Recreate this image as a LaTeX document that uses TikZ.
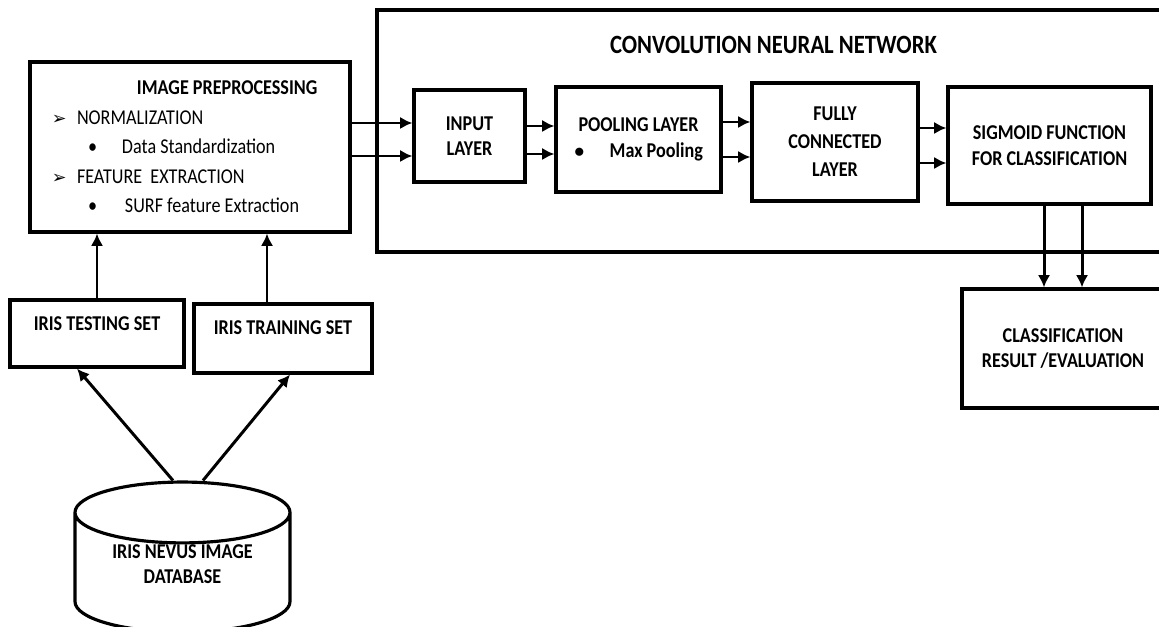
\documentclass[tikz,border=0pt]{standalone}
\usepackage{fontspec}
\setmainfont{Carlito}[FakeStretch=0.86]
\newfontfamily\dingfont{DejaVu Sans}
\usetikzlibrary{positioning}
\usetikzlibrary{shapes.geometric}
\usetikzlibrary{arrows.meta}
\newcommand{\boxfont}{\fontsize{12}{14.5}\selectfont}
\tikzset{
	layer/.style={draw, rectangle, line width=1.8pt, inner sep=2pt, align=center, font=\boxfont\bfseries},
	dataset/.style={draw, rectangle, line width=1.8pt, inner sep=0pt, align=center, font=\boxfont\bfseries},
	prepbox/.style={draw, rectangle, line width=1.8pt, inner xsep=0pt, text width=6.4cm, minimum height=3.4cm, align=flush left, font=\fontsize{12}{16.8}\selectfont},
	database/.style={draw, cylinder, shape border rotate=90, aspect=0.4, line width=1.8pt, minimum width=4.3cm, minimum height=3cm, font=\boxfont\bfseries},
	arr/.style={line width=1.7pt, -{Latex[length=7pt, width=7pt]}},
}

\begin{document}
\begin{tikzpicture}
		\path[use as bounding box, clip] (0,0) rectangle (23.18,12.52);
		
		% network frame, runs off the right edge
		\node (cnn) [draw, rectangle, line width=1.8pt, minimum width=15.86cm, minimum height=4.84cm] at (15.47,9.9) {};
		\node (cnntitle) [font=\fontsize{15}{18}\selectfont\bfseries] at ([yshift=-0.74cm]cnn.north) {CONVOLUTION NEURAL NETWORK};
		
		\node (prep) [prepbox] at (3.8,9.58) {%
			\hspace*{2.14cm}\textbf{IMAGE PREPROCESSING}\\
			\hspace*{0.44cm}\makebox[0.5cm][l]{\dingfont\fontsize{10}{12}\selectfont ➢}NORMALIZATION\\
			\hspace*{1.16cm}\makebox[0.68cm][l]{•}Data Standardization\\
			\hspace*{0.44cm}\makebox[0.5cm][l]{\dingfont\fontsize{10}{12}\selectfont ➢}FEATURE\ \ EXTRACTION\\
			\hspace*{1.16cm}\makebox[0.74cm][l]{•}SURF feature Extraction};
		
		\node (input) [layer, right of=prep, minimum width=2.22cm, minimum height=1.84cm, xshift=4.59cm, yshift=0.22cm] {INPUT\\LAYER};
		
		\node (pool) [layer, right of=input, minimum width=3.3cm, minimum height=2.1cm, xshift=2.38cm, yshift=-0.07cm] {POOLING LAYER\\$\bullet$\hspace{0.5cm}Max Pooling};
		
		\node (fc) [layer, right of=pool, minimum width=3.32cm, minimum height=2.36cm, xshift=2.93cm, yshift=-0.05cm] {FULLY\\[1.4pt]CONNECTED\\[1.4pt]LAYER};
		
		\node (sig) [layer, right of=fc, minimum width=4.06cm, minimum height=2.34cm, xshift=3.29cm, yshift=-0.07cm] {SIGMOID FUNCTION\\FOR CLASSIFICATION};
		
		\node (result) [layer, below of=sig, minimum width=4.04cm, minimum height=2.38cm, xshift=0.27cm, yshift=-3.06cm] {CLASSIFICATION\\RESULT /EVALUATION};
		
		\node (testing) [dataset, below of=prep, minimum width=3.48cm, text height=0.6cm, text depth=0.74cm, xshift=-1.86cm, yshift=-2.73cm] {IRIS TESTING SET};
		
		\node (training) [dataset, right of=testing, minimum width=3.56cm, text height=0.6cm, text depth=0.78cm, xshift=2.72cm, yshift=-0.1cm] {IRIS TRAINING SET};
		
		% text lifted a bit, the box keeps its size so the ends stay round
		\node (db) [database, below of=testing, xshift=1.71cm, yshift=-3.89cm] {\raisebox{0.24cm}[\height][\depth]{\begin{tabular}{@{}c@{}}IRIS NEVUS IMAGE\\DATABASE\end{tabular}}};
		
		\begin{scope}[arr]
			\draw ([yshift=0.26cm]input.west -| prep.east) -- ([yshift=0.26cm]input.west);
			\draw ([yshift=-0.40cm]input.west -| prep.east) -- ([yshift=-0.40cm]input.west);
			\draw ([yshift=0.27cm]pool.west -| input.east) -- ([yshift=0.27cm]pool.west);
			\draw ([yshift=-0.29cm]pool.west -| input.east) -- ([yshift=-0.29cm]pool.west);
			\draw ([yshift=0.40cm]fc.west -| pool.east) -- ([yshift=0.40cm]fc.west);
			\draw ([yshift=-0.30cm]fc.west -| pool.east) -- ([yshift=-0.30cm]fc.west);
			\draw ([yshift=0.35cm]sig.west -| fc.east) -- ([yshift=0.35cm]sig.west);
			\draw ([yshift=-0.35cm]sig.west -| fc.east) -- ([yshift=-0.35cm]sig.west);
			\draw ([xshift=-0.11cm]sig.south) -- ([xshift=-0.11cm]sig.south |- result.north);
			\draw ([xshift=0.65cm]sig.south) -- ([xshift=0.65cm]sig.south |- result.north);
			\draw (testing.north) -- (testing.north |- prep.south);
			\draw ([xshift=-0.32cm]training.north) -- ([xshift=-0.32cm]training.north |- prep.south);
			\draw ([xshift=-0.19cm]db.north) -- ([xshift=-0.4cm]testing.south);
			\draw ([xshift=0.41cm]db.north) -- ([xshift=0.14cm]training.south);
		\end{scope}
	\end{tikzpicture}
\end{document}
